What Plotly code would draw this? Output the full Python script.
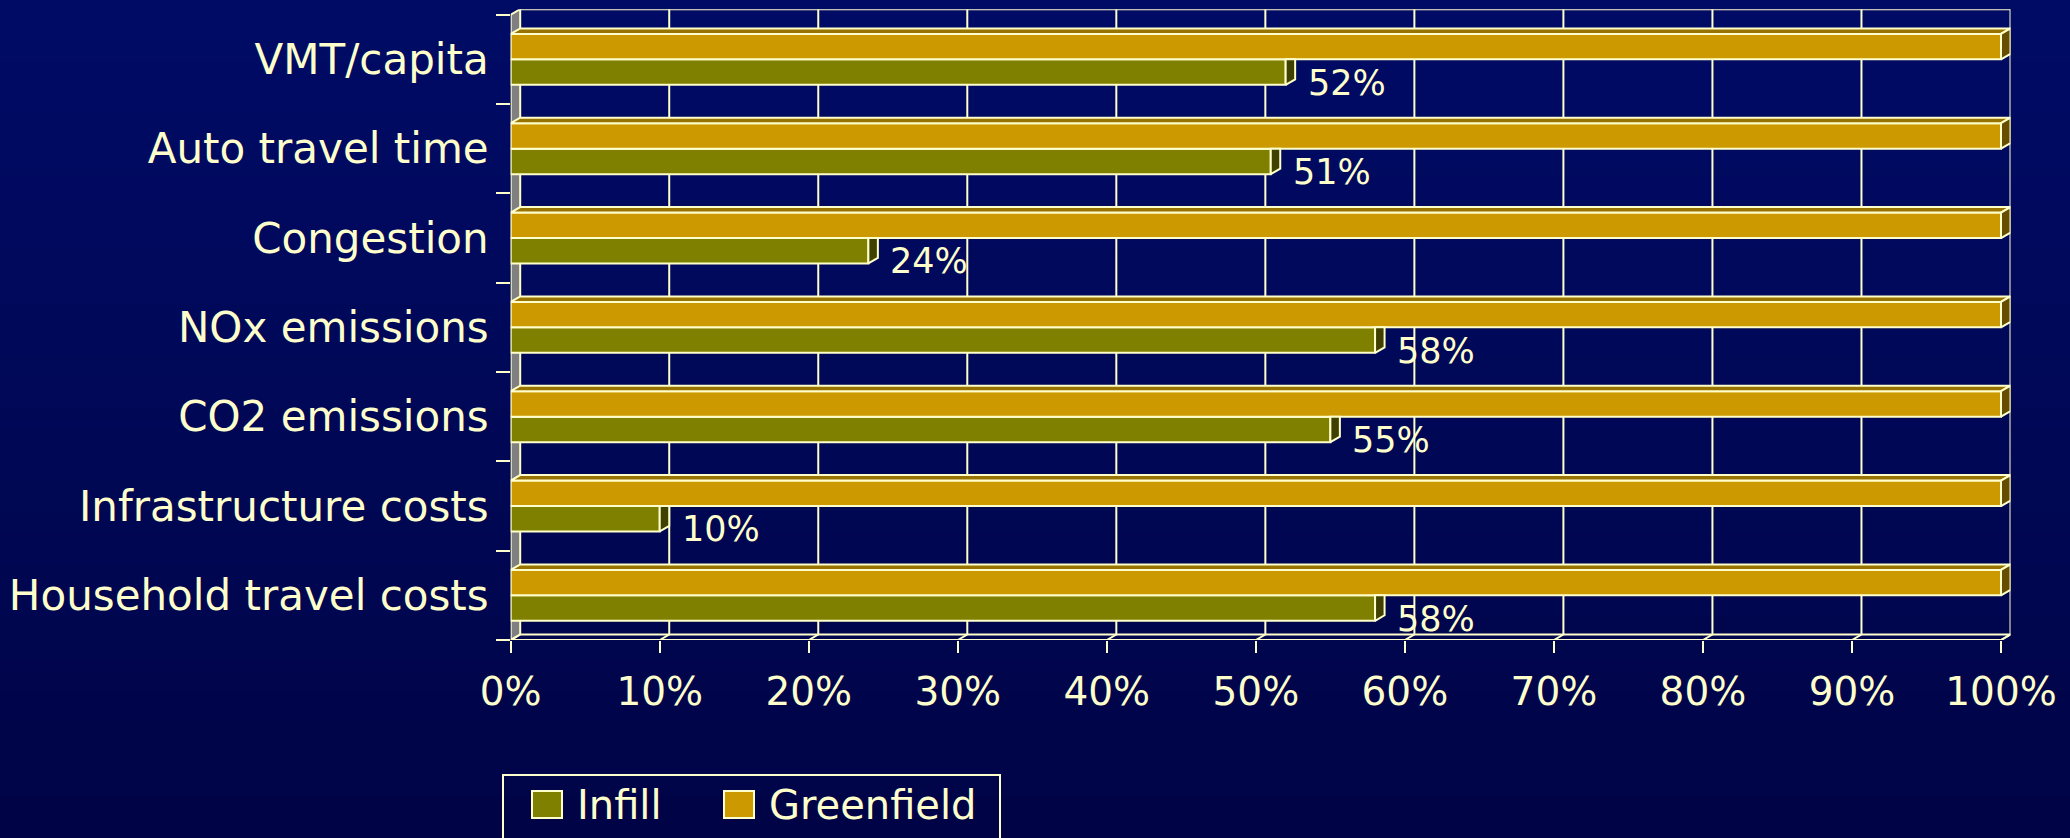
import plotly.graph_objects as go

# ---- data -------------------------------------------------------------
categories = ["VMT/capita", "Auto travel time", "Congestion", "NOx emissions",
              "CO2 emissions", "Infrastructure costs", "Household travel costs"]
infill = [52, 51, 24, 58, 55, 10, 58]
greenfield = [100, 100, 100, 100, 100, 100, 100]
series_names = ["Infill", "Greenfield"]
x_ticks = [0, 10, 20, 30, 40, 50, 60, 70, 80, 90, 100]
x_tick_labels = [f"{t}%" for t in x_ticks]

# ---- styling ------------------------------------------------------------
W, H = 2070, 838
CREAM = "#FFFFCC"
FONT = "DejaVu Sans"
INFILL_FRONT, INFILL_SIDE = "#808000", "#404000"
GREEN_FRONT, GREEN_TOP, GREEN_SIDE = "#CC9900", "#997300", "#664D00"
WALL_GRAY = "#808080"
BG_TOP, BG_BOTTOM = (0, 11, 102), (0, 4, 70)
LW = 2

# front plane of the 3-D box, in page pixels, and the depth offset
X0_PX, X100_PX = 510.7, 2001.0
Y_TOP_PX, Y_BOT_PX = 14.7, 640.0
DEPTH_X_PX, DEPTH_Y_PX = 9.5, 5.5

n = len(categories)
pos = [n - 1 - i for i in range(n)]          # first category at the top
BW = 0.285                                    # bar thickness (category units)

px_per_x = (X100_PX - X0_PX) / 100.0
px_per_y = (Y_BOT_PX - Y_TOP_PX) / n
DX = DEPTH_X_PX / px_per_x
DY = DEPTH_Y_PX / px_per_y

x_range = [0, 100 + DX]
y_range = [-0.5, n - 0.5 + DY]
x_dom = [X0_PX / W, (X100_PX + DEPTH_X_PX) / W]
y_dom = [1 - Y_BOT_PX / H, 1 - (Y_TOP_PX - DEPTH_Y_PX) / H]
boundaries = [k - 0.5 for k in range(n + 1)]

fig = go.Figure()

# front faces of the bars
fig.add_trace(go.Bar(
    y=pos, x=infill, orientation="h", offset=-BW, width=BW,
    marker=dict(color=INFILL_FRONT, line=dict(color=CREAM, width=LW)),
    name=series_names[0], showlegend=False, hoverinfo="x+name"))
fig.add_trace(go.Bar(
    y=pos, x=greenfield, orientation="h", offset=0, width=BW,
    marker=dict(color=GREEN_FRONT, line=dict(color=CREAM, width=LW)),
    name=series_names[1], showlegend=False, hoverinfo="x+name"))


def polys(rings):
    xs, ys = [], []
    for ring in rings:
        for (a, b) in ring + [ring[0]]:
            xs.append(a)
            ys.append(b)
        xs.append(None)
        ys.append(None)
    return xs, ys


# depth faces: greenfield top + end, infill end (part not hidden by greenfield)
g_top = [[(0, p + BW), (g, p + BW), (g + DX, p + BW + DY), (DX, p + BW + DY)]
         for p, g in zip(pos, greenfield)]
g_side = [[(g, p), (g, p + BW), (g + DX, p + BW + DY), (g + DX, p + DY)]
          for p, g in zip(pos, greenfield)]
i_side = [[(v, p - BW), (v, p), (v + DX, p), (v + DX, p - BW + DY)]
          for p, v in zip(pos, infill)]
for rings, col in ((g_top, GREEN_TOP), (g_side, GREEN_SIDE), (i_side, INFILL_SIDE)):
    xs, ys = polys(rings)
    fig.add_trace(go.Scatter(x=xs, y=ys, mode="lines", fill="toself",
                             fillcolor=col, line=dict(color=CREAM, width=LW),
                             hoverinfo="skip", showlegend=False))

# invisible trace so the category-label axis is drawn
fig.add_trace(go.Scatter(x=[0] * n, y=pos, yaxis="y2", mode="markers",
                         marker=dict(opacity=0), hoverinfo="skip", showlegend=False))

shapes = []
# vertical background gradient
NB = 80
for k in range(NB):
    t = (k + 0.5) / NB
    c = tuple(round(BG_TOP[j] + (BG_BOTTOM[j] - BG_TOP[j]) * t) for j in range(3))
    shapes.append(dict(type="rect", xref="paper", yref="paper", layer="below",
                       x0=-0.01, x1=1.01, y0=1 - (k + 1) / NB - 0.001, y1=1 - k / NB + 0.001,
                       fillcolor=f"rgb{c}", line=dict(width=0)))

lo, hi = -0.5, n - 0.5
# left wall
shapes.append(dict(type="path", xref="x", yref="y", layer="below",
                   path=f"M0,{lo} L0,{hi} L{DX},{hi + DY} L{DX},{lo + DY} Z",
                   fillcolor=WALL_GRAY, line=dict(color=CREAM, width=LW)))
# floor
shapes.append(dict(type="path", xref="x", yref="y", layer="below",
                   path=f"M0,{lo} L100,{lo} L{100 + DX},{lo + DY} L{DX},{lo + DY} Z",
                   line=dict(color=CREAM, width=LW)))
# back wall top edge
shapes.append(dict(type="path", xref="x", yref="y", layer="below",
                   path=f"M{DX},{hi + DY} L{100 + DX},{hi + DY}",
                   line=dict(color=CREAM, width=LW)))
# gridlines on the back wall, folding onto the floor
for t in x_ticks[1:]:
    shapes.append(dict(type="path", xref="x", yref="y", layer="below",
                       path=f"M{t + DX},{hi + DY} L{t + DX},{lo + DY} L{t},{lo}",
                       line=dict(color=CREAM, width=LW)))

# hand-drawn legend box
def px(x):
    return x / W


def py(y):
    return 1 - y / H


shapes.append(dict(type="rect", xref="paper", yref="paper",
                   x0=px(503), x1=px(1000), y0=py(850), y1=py(775),
                   line=dict(color=CREAM, width=LW)))
legend_items = [(series_names[0], INFILL_FRONT, 532), (series_names[1], GREEN_FRONT, 724)]
annotations = []
for name, col, x_left in legend_items:
    shapes.append(dict(type="rect", xref="paper", yref="paper",
                       x0=px(x_left), x1=px(x_left + 30), y0=py(818), y1=py(791),
                       fillcolor=col, line=dict(color=CREAM, width=LW)))
    annotations.append(dict(xref="paper", yref="paper", x=px(x_left + 43), y=py(805),
                            xanchor="left", yanchor="middle", text=name,
                            showarrow=False,
                            font=dict(family=FONT, size=40, color=CREAM)))

# value labels next to the infill bars
for p, v in zip(pos, infill):
    annotations.append(dict(xref="x", yref="y", x=v, y=p - BW, xanchor="left",
                            yanchor="middle", xshift=20, yshift=2,
                            text=f"{v}%", showarrow=False,
                            font=dict(family=FONT, size=35, color=CREAM)))

fig.update_layout(
    template="none",
    width=W, height=H, autosize=False,
    margin=dict(l=0, r=0, t=0, b=0, pad=0, autoexpand=False),
    paper_bgcolor="rgb(0,8,86)", plot_bgcolor="rgba(0,0,0,0)",
    barmode="overlay", showlegend=False,
    shapes=shapes, annotations=annotations,
    xaxis=dict(domain=x_dom, range=x_range, tickvals=x_ticks, ticktext=x_tick_labels,
               ticks="outside", ticklen=12, tickwidth=2, tickcolor=CREAM,
               showgrid=False, zeroline=False, showline=False, automargin=False,
               tickfont=dict(family=FONT, size=39, color=CREAM),
               ticklabelstandoff=5, fixedrange=True),
    yaxis=dict(domain=y_dom, range=y_range, tickvals=boundaries, ticks="outside",
               ticklen=14, tickwidth=2, tickcolor=CREAM, showticklabels=False,
               showgrid=False, zeroline=False, showline=False, automargin=False,
               fixedrange=True),
    yaxis2=dict(overlaying="y", anchor="x", side="left", range=y_range,
                tickvals=pos, ticktext=categories, ticks="",
                showgrid=False, zeroline=False, showline=False, automargin=False,
                tickfont=dict(family=FONT, size=42, color=CREAM),
                ticklabelstandoff=21, fixedrange=True),
)

fig.write_html("out.html", config={"displayModeBar": False})
